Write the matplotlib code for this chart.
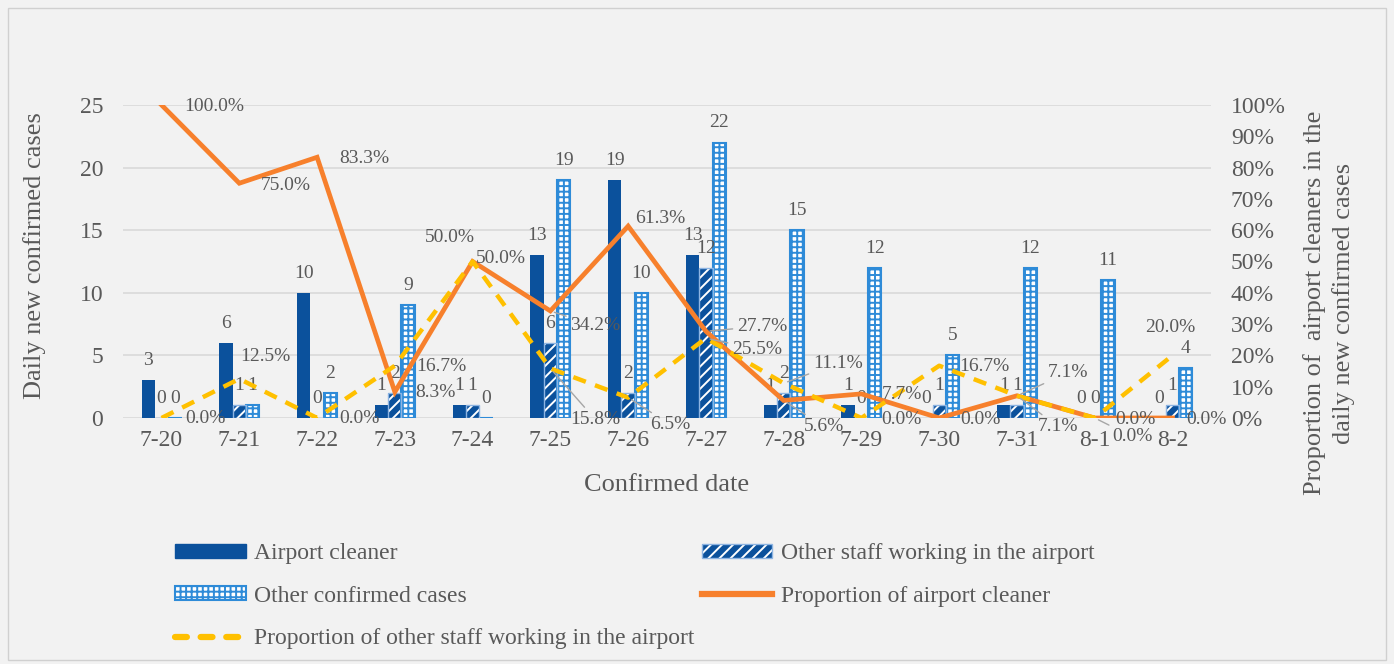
import numpy as np
import matplotlib.pyplot as plt
import matplotlib.patches as mpatches
from matplotlib.lines import Line2D

plt.rcParams['font.family'] = ['Liberation Serif', 'DejaVu Serif']
plt.rcParams['hatch.linewidth'] = 1.4

# data
dates = ['7-20', '7-21', '7-22', '7-23', '7-24', '7-25', '7-26',
         '7-27', '7-28', '7-29', '7-30', '7-31', '8-1', '8-2']
cleaner = [3, 6, 10, 1, 1, 13, 19, 13, 1, 1, 0, 1, 0, 0]
other_staff = [0, 1, 0, 2, 1, 6, 2, 12, 2, 0, 1, 1, 0, 1]
other_cases = [0, 1, 2, 9, 0, 19, 10, 22, 15, 12, 5, 12, 11, 4]
prop_cleaner = [100.0, 75.0, 83.3, 8.3, 50.0, 34.2, 61.3, 27.7, 5.6, 7.7, 0.0, 7.1, 0.0, 0.0]
prop_staff = [0.0, 12.5, 0.0, 16.7, 50.0, 15.8, 6.5, 25.5, 11.1, 0.0, 16.7, 7.1, 0.0, 20.0]

# label offsets (pixels) for the percentage labels, and which ones get a leader line
off_cleaner = [(53, -2), (46, -2), (47, -1), (41, 0), (28, 3), (45, -15), (32, 8),
               (56, 5), (40, -26), (40, -1), (41, -2), (51, 23), (41, -2), (34, -2)]
off_staff = [(44, -1), (26, 22), (42, -1), (46, -1), (-23, 24), (45, -51), (42, -27),
             (51, -11), (54, 20), (40, -2), (45, -1), (41, -31), (38, -19), (-2, 28)]
lead_cleaner = [5, 7, 8, 11]
lead_staff = [5, 6, 7, 8, 11, 12]

c_dark = '#0b519c'
c_grid = '#2e8bd8'
c_orange = '#f7802c'
c_yellow = '#ffc000'
c_text = '#595959'
bg = '#f2f2f2'

fig = plt.figure(figsize=(13.94, 6.64), dpi=100, facecolor=bg)
fig.patches.append(mpatches.Rectangle((0.006, 0.006), 0.988, 0.982, transform=fig.transFigure,
                                      fill=False, edgecolor='#d0d0d0', linewidth=1))
ax = fig.add_axes([0.088, 0.3705, 0.781, 0.4714])
ax.set_facecolor(bg)
ax2 = ax.twinx()

x = np.arange(len(dates))
w = 0.171

b1 = ax.bar(x - w, cleaner, w, color=c_dark, linewidth=0, zorder=2)
b2 = ax.bar(x, other_staff, w, color=c_dark, edgecolor='white', hatch='///', linewidth=0, zorder=2)
ax.bar(x, other_staff, w, facecolor='none', edgecolor='#8db4e2', linewidth=1, zorder=2.1)
b3 = ax.bar(x + w, other_cases, w, color='white', edgecolor=c_grid, hatch='+++', linewidth=1.5, zorder=2)

for bars in (b1, b2, b3):
    ax.bar_label(bars, padding=8, fontsize=14, color=c_text)

ax.set_ylim(0, 25)
ax.set_yticks(range(0, 26, 5))
ax.set_xlim(-0.5, len(dates) - 0.5)
ax.set_xticks(x)
ax.set_xticklabels(dates)
ax.grid(axis='y', color='#d9d9d9', linewidth=1.2, zorder=0)
ax.set_axisbelow(True)

ax2.plot(x, prop_cleaner, color=c_orange, linewidth=3.4, zorder=3, solid_joinstyle='miter')
ax2.plot(x, prop_staff, color=c_yellow, linewidth=3.2, linestyle=(0, (3, 2.2)), zorder=3)
ax2.set_ylim(0, 100)
ax2.set_yticks(range(0, 101, 10))
ax2.set_yticklabels([f'{v}%' for v in range(0, 101, 10)])

leader = dict(arrowstyle='-', color='#a6a6a6', lw=1, shrinkA=1, shrinkB=3)
for i in range(len(dates)):
    ax2.annotate(f'{prop_cleaner[i]:.1f}%', (x[i], prop_cleaner[i]), xytext=off_cleaner[i],
                 textcoords='offset pixels', ha='center', va='center', fontsize=14, color=c_text,
                 zorder=5, arrowprops=leader if i in lead_cleaner else None)
    ax2.annotate(f'{prop_staff[i]:.1f}%', (x[i], prop_staff[i]), xytext=off_staff[i],
                 textcoords='offset pixels', ha='center', va='center', fontsize=14, color=c_text,
                 zorder=5, arrowprops=leader if i in lead_staff else None)

for a in (ax, ax2):
    for s in a.spines.values():
        s.set_visible(False)
    a.tick_params(length=0, labelsize=17, colors=c_text)
ax.tick_params(axis='x', pad=9)
ax.tick_params(axis='y', pad=14)
ax2.tick_params(axis='y', pad=14)
ax2.set_zorder(ax.get_zorder() + 1)
ax2.patch.set_visible(False)

fig.text(35 / 1394, 1 - 256 / 664, 'Daily new confirmed cases', rotation=90,
         ha='center', va='center', fontsize=19, color=c_text)
fig.text(1329 / 1394, 1 - 303 / 664, 'Proportion of  airport cleaners in the\ndaily new confirmed cases',
         rotation=90, ha='center', va='center', fontsize=19, color=c_text, linespacing=1.35,
         multialignment='center')
fig.text(667 / 1394, 1 - 485 / 664, 'Confirmed date', ha='center', va='center', fontsize=19, color=c_text)

h1 = mpatches.Patch(facecolor=c_dark, edgecolor=c_dark)
h2 = (mpatches.Patch(facecolor=c_dark, edgecolor='white', hatch='///', linewidth=0),
      mpatches.Patch(facecolor='none', edgecolor='#8db4e2', linewidth=1))
h3 = mpatches.Patch(facecolor='white', edgecolor=c_grid, hatch='+++', linewidth=1.5)
h4 = Line2D([], [], color=c_orange, linewidth=4.5)
h5 = Line2D([], [], color=c_yellow, linewidth=4.5, linestyle=(0, (1.9, 2.2)), dash_capstyle='round')
leg = fig.legend([h1, h3, h5, h2, h4],
                 ['Airport cleaner', 'Other confirmed cases',
                  'Proportion of other staff working in the airport',
                  'Other staff working in the airport', 'Proportion of airport cleaner'],
                 loc='upper left', bbox_to_anchor=(175 / 1394, 1 - 543 / 664), ncol=2,
                 frameon=False, fontsize=17, handlelength=3, handleheight=0.55,
                 handletextpad=0.35, labelspacing=0.92, columnspacing=0.3,
                 borderpad=0, borderaxespad=0)
for t in leg.get_texts():
    t.set_color(c_text)

fig.savefig('out.png', dpi=100, facecolor=bg)
